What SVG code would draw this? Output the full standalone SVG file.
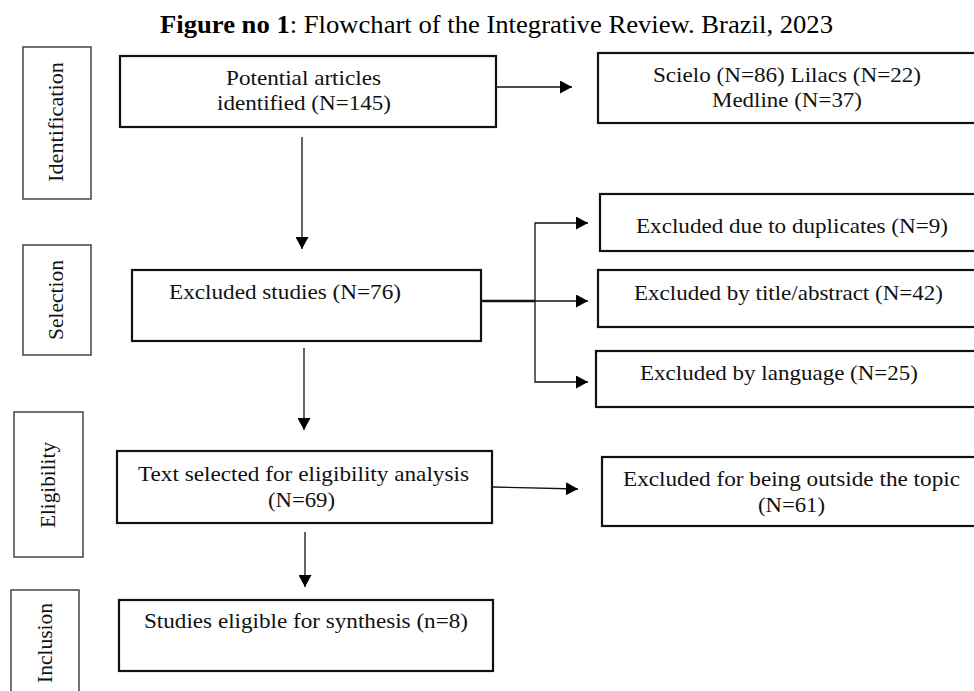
<svg xmlns="http://www.w3.org/2000/svg" width="974" height="691" viewBox="0 0 974 691">
<defs>
<marker id="ah" viewBox="0 0 12 13" refX="12" refY="6.5" markerWidth="12" markerHeight="13" markerUnits="userSpaceOnUse" orient="auto">
<path d="M0,0 L12,6.5 L0,13 z" fill="#000"/>
</marker>
<style>
.box{fill:#fff;stroke:#111;stroke-width:2.2}
.lab{fill:#fff;stroke:#444;stroke-width:1.5}
.t{font-family:"Liberation Serif","Times New Roman",serif;font-size:21px;fill:#111}
.lt{font-family:"Liberation Serif","Times New Roman",serif;font-size:21px;fill:#111}
.c{stroke:#111;stroke-width:1.3;fill:none}
</style>
</defs>
<rect width="974" height="691" fill="#fff"/>
<text x="160" y="33" textLength="673" lengthAdjust="spacingAndGlyphs" style="font-family:'Liberation Serif','Times New Roman',serif;font-size:25px;fill:#000"><tspan font-weight="bold">Figure no 1</tspan>: Flowchart of the Integrative Review. Brazil, 2023</text>

<g id="lab-identification"><rect class="lab" x="23" y="47" width="68" height="152"/><text class="lt" transform="translate(63,122) rotate(-90)" text-anchor="middle" textLength="120" lengthAdjust="spacingAndGlyphs">Identification</text></g>
<g id="lab-selection"><rect class="lab" x="23" y="245" width="68" height="110"/><text class="lt" transform="translate(63,300) rotate(-90)" text-anchor="middle" textLength="80" lengthAdjust="spacingAndGlyphs">Selection</text></g>
<g id="lab-eligibility"><rect class="lab" x="14" y="412" width="69" height="145"/><text class="lt" transform="translate(55,485) rotate(-90)" text-anchor="middle" textLength="86" lengthAdjust="spacingAndGlyphs">Eligibility</text></g>
<g id="lab-inclusion"><rect class="lab" x="11" y="590" width="68" height="120"/><text class="lt" transform="translate(52,643) rotate(-90)" text-anchor="middle" textLength="80" lengthAdjust="spacingAndGlyphs">Inclusion</text></g>

<g id="n-potential"><rect class="box" x="120" y="56" width="376" height="71"/><text class="t" x="226" y="85" textLength="155" lengthAdjust="spacingAndGlyphs">Potential articles</text><text class="t" x="217" y="110" textLength="174" lengthAdjust="spacingAndGlyphs">identified (N=145)</text></g>
<g id="n-sources"><rect class="box" x="598" y="53" width="390" height="70"/><text class="t" x="653" y="82" textLength="268" lengthAdjust="spacingAndGlyphs">Scielo (N=86) Lilacs (N=22)</text><text class="t" x="712" y="107" textLength="150" lengthAdjust="spacingAndGlyphs">Medline (N=37)</text></g>
<g id="n-excluded"><rect class="box" x="132" y="270" width="349" height="71"/><text class="t" x="169" y="299" textLength="232" lengthAdjust="spacingAndGlyphs">Excluded studies (N=76)</text></g>
<g id="n-dup"><rect class="box" x="600" y="194" width="390" height="57"/><text class="t" x="636" y="233" textLength="312" lengthAdjust="spacingAndGlyphs">Excluded due to duplicates (N=9)</text></g>
<g id="n-title"><rect class="box" x="598" y="270" width="390" height="57"/><text class="t" x="634" y="300" textLength="309" lengthAdjust="spacingAndGlyphs">Excluded by title/abstract (N=42)</text></g>
<g id="n-lang"><rect class="box" x="596" y="351" width="390" height="56"/><text class="t" x="640" y="380" textLength="278" lengthAdjust="spacingAndGlyphs">Excluded by language (N=25)</text></g>
<g id="n-text"><rect class="box" x="117" y="451" width="375" height="72"/><text class="t" x="138" y="481" textLength="331" lengthAdjust="spacingAndGlyphs">Text selected for eligibility analysis</text><text class="t" x="268" y="507" textLength="67" lengthAdjust="spacingAndGlyphs">(N=69)</text></g>
<g id="n-topic"><rect class="box" x="602" y="457" width="390" height="69"/><text class="t" x="623" y="486" textLength="337" lengthAdjust="spacingAndGlyphs">Excluded for being outside the topic</text><text class="t" x="758" y="512" textLength="67" lengthAdjust="spacingAndGlyphs">(N=61)</text></g>
<g id="n-studies"><rect class="box" x="119" y="600" width="374" height="71"/><text class="t" x="144" y="628" textLength="324" lengthAdjust="spacingAndGlyphs">Studies eligible for synthesis (n=8)</text></g>

<g id="connectors">
<line class="c" x1="302" y1="137" x2="302" y2="249" marker-end="url(#ah)"/>
<line class="c" x1="496" y1="87" x2="572" y2="87" marker-end="url(#ah)"/>
<line x1="481" y1="301" x2="535" y2="301" stroke="#111" stroke-width="2.6"/>
<polyline class="c" points="535,301 535,223 588,223" marker-end="url(#ah)"/>
<line class="c" x1="535" y1="301" x2="588" y2="301" marker-end="url(#ah)"/>
<polyline class="c" points="535,301 535,382 588,382" marker-end="url(#ah)"/>
<line class="c" x1="304" y1="348" x2="304" y2="430" marker-end="url(#ah)"/>
<line class="c" x1="492" y1="487" x2="578" y2="489" marker-end="url(#ah)"/>
<line class="c" x1="305" y1="532" x2="305" y2="587" marker-end="url(#ah)"/>
</g>
</svg>
